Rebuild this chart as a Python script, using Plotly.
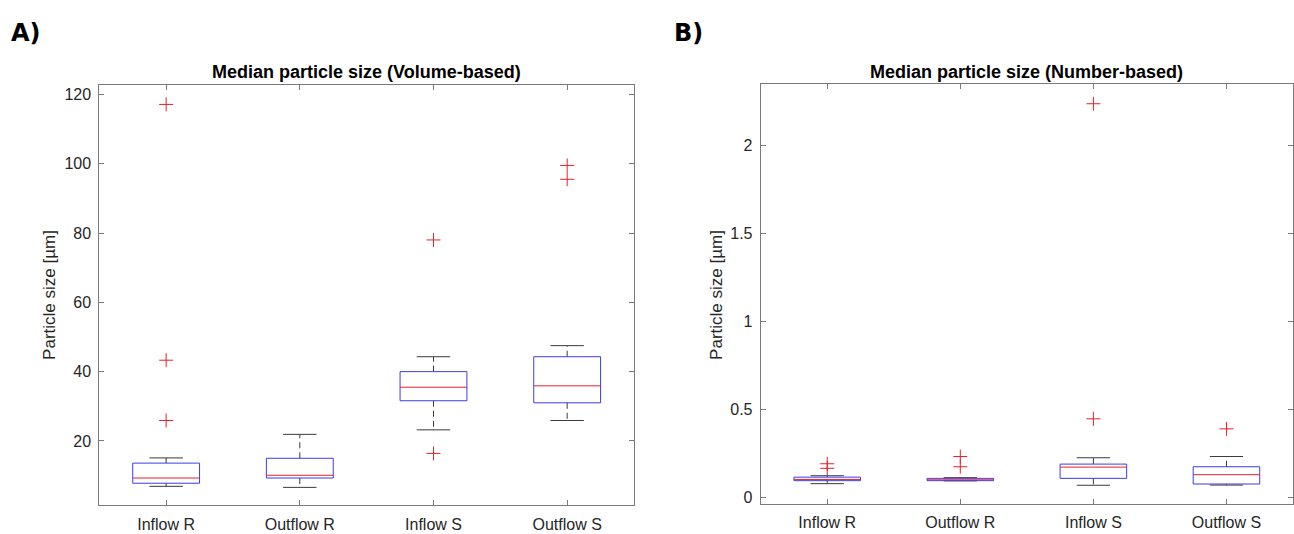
import plotly.graph_objects as go

# Group labels shared by both panels
groups = ["Inflow R", "Outflow R", "Inflow S", "Outflow S"]

# Volume-based median particle size [µm]: box statistics per group
vol_q1 = [7.8, 9.3, 31.6, 31.0]
vol_median = [9.3, 10.1, 35.5, 35.9]
vol_q3 = [13.6, 15.0, 40.0, 44.3]
vol_low = [6.9, 6.6, 23.2, 25.9]
vol_high = [15.1, 21.9, 44.3, 47.5]
vol_outliers = [[25.9, 43.3, 117.1], [], [16.4, 78.0], [95.5, 99.5]]

# Number-based median particle size [µm]: box statistics per group
num_q1 = [0.096, 0.096, 0.109, 0.077]
num_median = [0.103, 0.101, 0.173, 0.130]
num_q3 = [0.116, 0.109, 0.190, 0.175]
num_low = [0.079, 0.095, 0.070, 0.071]
num_high = [0.124, 0.113, 0.226, 0.233]
num_outliers = [[0.166, 0.192], [0.175, 0.233], [0.447, 2.235], [0.390]]

W, H = 1294, 534
BOX_HALF = 0.25
CAP_HALF = 0.125
FONT = "Liberation Sans, Arial, Helvetica, sans-serif"
TEXT = "#262626"
AXIS = "#7a7a7a"

fig = go.Figure()


def add_boxplot(q1, med, q3, low, high, outliers, xa, ya):
    xs_box, ys_box = [], []
    xs_med, ys_med = [], []
    xs_wh, ys_wh = [], []
    xs_cap, ys_cap = [], []
    xs_out, ys_out = [], []
    for i in range(len(groups)):
        p = i + 1
        l, r = p - BOX_HALF, p + BOX_HALF
        xs_box += [l, r, r, l, l, None]
        ys_box += [q1[i], q1[i], q3[i], q3[i], q1[i], None]
        xs_med += [l, r, None]
        ys_med += [med[i], med[i], None]
        xs_wh += [p, p, None, p, p, None]
        ys_wh += [q3[i], high[i], None, q1[i], low[i], None]
        xs_cap += [p - CAP_HALF, p + CAP_HALF, None, p - CAP_HALF, p + CAP_HALF, None]
        ys_cap += [high[i], high[i], None, low[i], low[i], None]
        for v in outliers[i]:
            xs_out.append(p)
            ys_out.append(v)
    common = dict(xaxis=xa, yaxis=ya, showlegend=False, hoverinfo="skip")
    fig.add_trace(go.Scatter(x=xs_wh, y=ys_wh, mode="lines",
                             line=dict(color="#3a3a3a", width=1, dash="6px,4px"), **common))
    fig.add_trace(go.Scatter(x=xs_cap, y=ys_cap, mode="lines",
                             line=dict(color="#3a3a3a", width=1), **common))
    fig.add_trace(go.Scatter(x=xs_box, y=ys_box, mode="lines",
                             line=dict(color="#3b3bf0", width=1), **common))
    fig.add_trace(go.Scatter(x=xs_med, y=ys_med, mode="lines",
                             line=dict(color="#e8202a", width=1), **common))
    fig.add_trace(go.Scatter(x=xs_out, y=ys_out, mode="markers",
                             marker=dict(symbol="cross-thin", size=10,
                                         line=dict(color="#e8202a", width=1)),
                             **common))


add_boxplot(vol_q1, vol_median, vol_q3, vol_low, vol_high, vol_outliers, "x", "y")
add_boxplot(num_q1, num_median, num_q3, num_low, num_high, num_outliers, "x2", "y2")

xaxis_style = dict(
    range=[0.5, 4.5], tickmode="array", tickvals=[1, 2, 3, 4], ticktext=groups,
    ticks="inside", ticklen=5, tickcolor=AXIS, showline=True, linecolor=AXIS,
    linewidth=1, mirror="ticks", showgrid=False, zeroline=False,
    tickfont=dict(family=FONT, size=16, color=TEXT), ticklabelstandoff=4,
)
yaxis_style = dict(
    ticks="inside", ticklen=5, tickcolor=AXIS, showline=True, linecolor=AXIS,
    linewidth=1, mirror="ticks", showgrid=False, zeroline=False,
    tickfont=dict(family=FONT, size=16, color=TEXT), ticklabelstandoff=4,
)

fig.update_layout(
    width=W, height=H,
    margin=dict(l=0, r=0, t=0, b=0),
    paper_bgcolor="white", plot_bgcolor="white",
    xaxis=dict(domain=[99.3 / W, 634 / W], anchor="y", **xaxis_style),
    yaxis=dict(domain=[1 - 507.3 / H, 1 - 85 / H], anchor="x", range=[1.4, 122.8],
               tickvals=[20, 40, 60, 80, 100, 120], **yaxis_style),
    xaxis2=dict(domain=[760.7 / W, 1293 / W], anchor="y2", **xaxis_style),
    yaxis2=dict(domain=[1 - 506 / H, 1 - 84.5 / H], anchor="x2", range=[-0.037, 2.346],
                tickvals=[0, 0.5, 1, 1.5, 2], ticktext=["0", "0.5", "1", "1.5", "2"],
                **yaxis_style),
)

# Panel titles, axis titles and panel letters
ann = [
    dict(text="<b>Median particle size (Volume-based)</b>", x=(99.3 + 634) / 2 / W,
         y=1 - 72 / H, size=18),
    dict(text="<b>Median particle size (Number-based)</b>", x=(760.7 + 1293) / 2 / W,
         y=1 - 72 / H, size=18),
]
for a in ann:
    fig.add_annotation(text=a["text"], x=a["x"], y=a["y"], xref="paper", yref="paper",
                       showarrow=False, xanchor="center", yanchor="middle",
                       font=dict(family=FONT, size=a["size"], color="black"))

for xpos, label in [(50 / W, "Particle size [µm]"), (717 / W, "Particle size [µm]")]:
    fig.add_annotation(text=label, x=xpos, y=1 - 296 / H, xref="paper", yref="paper",
                       showarrow=False, textangle=-90, xanchor="center", yanchor="middle",
                       font=dict(family=FONT, size=17, color=TEXT))

for xpos, label in [(9 / W, "<b>A)</b>"), (672 / W, "<b>B)</b>")]:
    fig.add_annotation(text=label, x=xpos, y=1 - 33 / H, xref="paper", yref="paper",
                       showarrow=False, xanchor="left", yanchor="middle",
                       font=dict(family="DejaVu Sans, Verdana, sans-serif", size=24,
                                 color="black"))

fig.write_html("out.html")
